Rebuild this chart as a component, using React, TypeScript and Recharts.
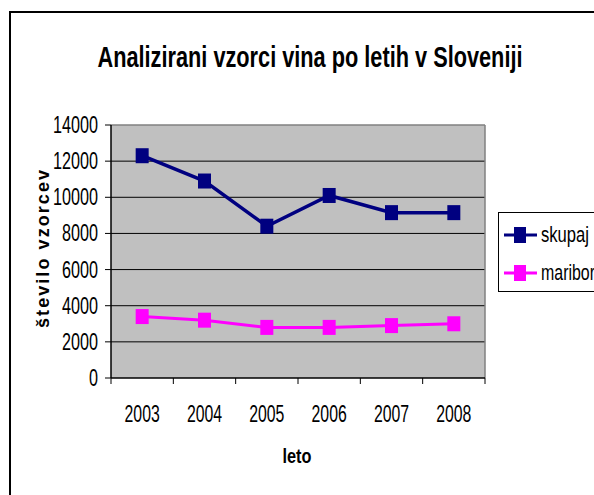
import React from "react";
import { LineChart, Line, XAxis, YAxis, CartesianGrid, ReferenceLine } from "recharts";

const years = [2003, 2004, 2005, 2006, 2007, 2008];
const skupaj = [12300, 10900, 8400, 10100, 9150, 9150];
const maribor = [3400, 3200, 2800, 2800, 2900, 3000];
const yTicks = [0, 2000, 4000, 6000, 8000, 10000, 12000, 14000];
const seriesNames = ["skupaj", "maribor"];
const seriesColors = ["#000080", "#ff00ff"];

const data = years.map((year, i) => ({ year, skupaj: skupaj[i], maribor: maribor[i] }));
// integer ticks carry the labels, half ticks carry the category boundary marks
const xTicks = [years[0] - 0.5, ...years.flatMap((y) => [y, y + 0.5])];

const FONT = "'Liberation Sans', Arial, sans-serif";

function XTick(props: any) {
  const { x, y, payload } = props;
  const v = payload.value;
  if (Number.isInteger(v)) {
    const s = String(v);
    return (
      <text x={x} y={y + 44} textAnchor="middle" fontFamily={FONT} fontSize={23} fill="#000"
        textLength={s.length * 8.8} lengthAdjust="spacingAndGlyphs">
        {s}
      </text>
    );
  }
  return <line x1={x} y1={y} x2={x} y2={y + 6} stroke="#000" strokeWidth={1} />;
}

function YTick(props: any) {
  const { x, y, payload } = props;
  const s = String(payload.value);
  return (
    <text x={x} y={y + 8} textAnchor="end" fontFamily={FONT} fontSize={23} fill="#000"
      textLength={s.length * 9} lengthAdjust="spacingAndGlyphs">
      {s}
    </text>
  );
}

function SquareDot(props: any) {
  const { cx, cy, stroke } = props;
  if (cx == null || cy == null) return null;
  return <rect x={cx - 6.5} y={cy - 7.5} width={13} height={15} fill={stroke} stroke="none" />;
}

export default function App() {
  return (
    <div style={{ position: "absolute", left: 0, top: 0, width: 594, height: 495, background: "#fff", overflow: "hidden" }}>
      <div style={{ position: "absolute", left: 9, top: 11, width: 600, height: 500, borderTop: "2px solid #000", borderLeft: "2px solid #000" }} />
      <div style={{ position: "absolute", left: 0, top: 0 }}>
        <LineChart width={594} height={495} data={data} margin={{ top: 125, right: 109, bottom: 87, left: 51 }}>
          <CartesianGrid vertical={false} fill="#c0c0c0" stroke="#000" strokeWidth={1} horizontalValues={yTicks.slice(1, -1)} />
          <XAxis dataKey="year" type="number" domain={[years[0] - 0.5, years[years.length - 1] + 0.5]} ticks={xTicks}
            interval={0} height={30} tickLine={false} tickSize={0} tickMargin={0} tick={<XTick />}
            axisLine={{ stroke: "#000", strokeWidth: 1.5 }} />
          <YAxis type="number" domain={[0, 14000]} ticks={yTicks} interval={0} width={60} tickSize={6} tickMargin={7}
            tick={<YTick />} tickLine={{ stroke: "#000" }} axisLine={{ stroke: "#000", strokeWidth: 1.5 }} />
          <ReferenceLine y={14000} stroke="#808080" strokeWidth={1.5} />
          <ReferenceLine x={years[years.length - 1] + 0.5} stroke="#808080" strokeWidth={1.5} />
          <Line dataKey="skupaj" stroke={seriesColors[0]} strokeWidth={3.5} dot={<SquareDot />} isAnimationActive={false} />
          <Line dataKey="maribor" stroke={seriesColors[1]} strokeWidth={3} dot={<SquareDot />} isAnimationActive={false} />
        </LineChart>
      </div>
      <svg width={594} height={495} style={{ position: "absolute", left: 0, top: 0, pointerEvents: "none" }}>
        <text x={310} y={67} textAnchor="middle" fontFamily={FONT} fontWeight="bold" fontSize={29}
          textLength={425} lengthAdjust="spacingAndGlyphs">
          Analizirani vzorci vina po letih v Sloveniji
        </text>
        <text transform="translate(49,249) rotate(-90)" textAnchor="middle" fontFamily={FONT} fontWeight="bold"
          fontSize={18} textLength={158} lengthAdjust="spacing">
          število vzorcev
        </text>
        <text x={297} y={463} textAnchor="middle" fontFamily={FONT} fontWeight="bold" fontSize={21}
          textLength={29} lengthAdjust="spacingAndGlyphs">
          leto
        </text>
        <rect x={498.5} y={212.5} width={120} height={79} fill="#fff" stroke="#000" strokeWidth={1} />
        {seriesNames.map((name, i) => (
          <g key={name}>
            <line x1={504} x2={537} y1={235 + i * 38} y2={235 + i * 38} stroke={seriesColors[i]} strokeWidth={3} />
            <rect x={514} y={227 + i * 38} width={12} height={16} fill={seriesColors[i]} />
            <text x={541} y={242 + i * 38} fontFamily={FONT} fontSize={22}
              textLength={i === 0 ? 48 : 54} lengthAdjust="spacingAndGlyphs">
              {name}
            </text>
          </g>
        ))}
      </svg>
    </div>
  );
}
